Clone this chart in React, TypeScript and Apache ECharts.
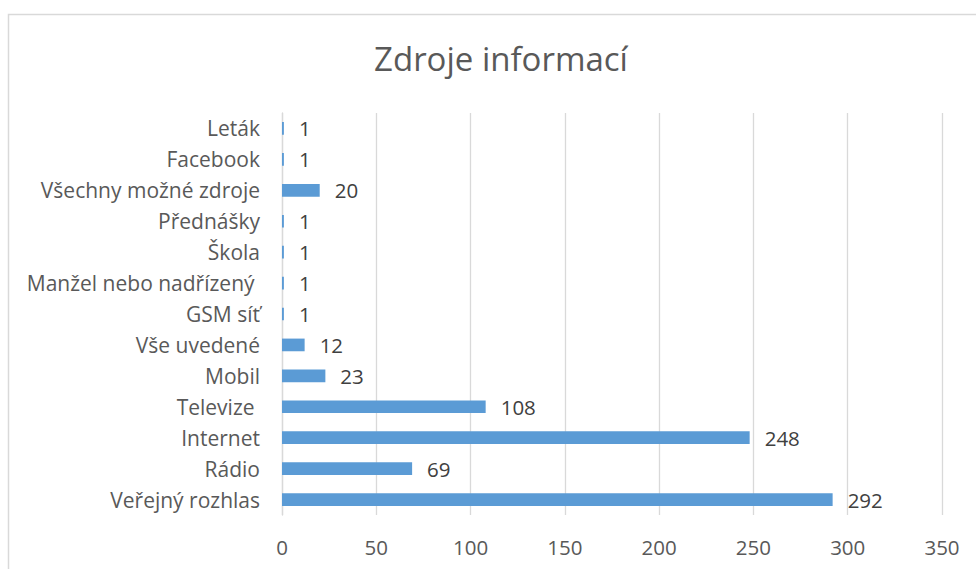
import React, { useEffect, useRef } from "react";
import * as echarts from "echarts";

const categories = [
  "Veřejný rozhlas",
  "Rádio",
  "Internet",
  "Televize ",
  "Mobil",
  "Vše uvedené",
  "GSM síť",
  "Manžel nebo nadřízený ",
  "Škola",
  "Přednášky",
  "Všechny možné zdroje",
  "Facebook",
  "Leták",
];
const values = [292, 69, 248, 108, 23, 12, 1, 1, 1, 1, 20, 1, 1];
const titleText = "Zdroje informací";

export default function App() {
  const ref = useRef<HTMLDivElement>(null);
  useEffect(() => {
    const chart = echarts.init(ref.current!, null, { renderer: "svg" });
    const font = "'Open Sans', 'Noto Sans', sans-serif";
    chart.setOption({
      animation: false,
      backgroundColor: "#ffffff",
      title: {
        text: titleText,
        left: 496,
        top: 37,
        textAlign: "center",
        textStyle: { fontSize: 33, fontWeight: "normal", color: "#595959", fontFamily: font },
      },
      graphic: [
        {
          type: "rect",
          shape: { x: 8.5, y: 14.5, width: 1000, height: 600 },
          style: { fill: "none", stroke: "#d9d9d9", lineWidth: 1.5 },
          silent: true,
        },
      ],
      grid: { left: 282, right: 34, top: 113, bottom: 54, containLabel: false },
      xAxis: {
        type: "value",
        min: 0,
        max: 350,
        interval: 50,
        axisLine: { show: false },
        axisTick: { show: false },
        splitLine: { show: true, lineStyle: { color: "#d9d9d9", width: 1.3 } },
        axisLabel: { color: "#595959", fontSize: 20.5, fontFamily: font, margin: 21 },
      },
      yAxis: {
        type: "category",
        data: categories,
        axisLine: { show: true, lineStyle: { color: "#d9d9d9", width: 1.3 } },
        axisTick: { show: false },
        axisLabel: { color: "#595959", fontSize: 21, fontFamily: font, margin: 22 },
      },
      series: [
        {
          type: "bar",
          data: values,
          barWidth: "41%",
          itemStyle: { color: "#5b9bd5" },
          label: {
            show: true,
            position: "right",
            distance: 15,
            color: "#404040",
            fontSize: 20.5,
            fontFamily: font,
          },
        },
      ],
    });
    return () => chart.dispose();
  }, []);
  return (
    <div
      ref={ref}
      style={{ position: "absolute", left: 0, top: 0, width: 976, height: 569 }}
    />
  );
}
